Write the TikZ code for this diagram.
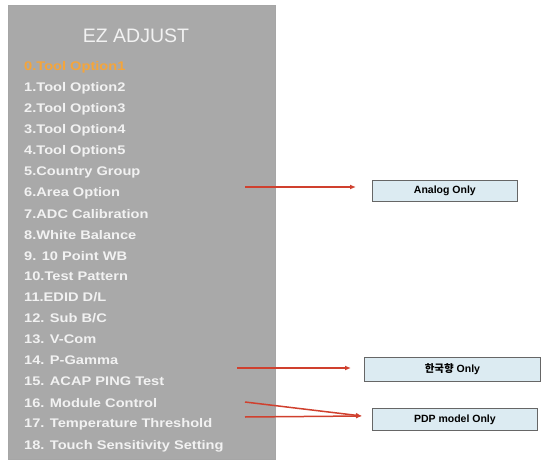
\documentclass[tikz,border=0pt]{standalone}
\usepackage{fontspec}
\setmainfont{Liberation Sans}
\newfontfamily\krfont{Noto Sans CJK KR}
\newfontfamily\itemfont[FakeStretch=1.17]{Liberation Sans}
\usetikzlibrary{arrows.meta}
\definecolor{panelgray}{HTML}{A9A9A9}
\definecolor{itemwhite}{HTML}{F2F2F2}
\definecolor{itemorange}{HTML}{F5A53A}
\definecolor{arrowred}{HTML}{D0402E}
\definecolor{boxblue}{HTML}{DCEBF2}
\begin{document}
\begin{tikzpicture}[x=1pt,y=-1pt,
  item/.style={anchor=west,inner sep=0pt,text=itemwhite,font=\itemfont\fontsize{12.5}{13}\selectfont\bfseries},
  notebox/.style={draw=gray!80!black,fill=boxblue,line width=0.8pt,inner sep=0pt,font=\fontsize{10.5}{11}\selectfont\bfseries},
  redarrow/.style={draw=arrowred,line width=1.5pt,-{Latex[length=6pt,width=5pt]}}]
\useasboundingbox (0,0) rectangle (542,461);
\fill[white] (0,0) rectangle (542,461);
\node[fill=panelgray,draw=gray!70,minimum width=267pt,minimum height=454pt,inner sep=0pt,anchor=north west] (panel) at (8,5) {};
\node[text=itemwhite,font=\fontsize{19.5}{20}\selectfont] (title) at (136,36) {EZ ADJUST};
\node[item,text=itemorange] (i0) at (24,67) {0.Tool Option1};
\node[item] (i1) at (24,88) {1.Tool Option2};
\node[item] (i2) at (24,109) {2.Tool Option3};
\node[item] (i3) at (24,130) {3.Tool Option4};
\node[item] (i4) at (24,151) {4.Tool Option5};
\node[item] (i5) at (24,172) {5.Country Group};
\node[item] (i6) at (24,193) {6.Area Option};
\node[item] (i7) at (24,214) {7.ADC Calibration};
\node[item] (i8) at (24,235) {8.White Balance};
\node[item] (i9) at (24,256) {9. 10 Point WB};
\node[item] (i10) at (24,276) {10.Test Pattern};
\node[item] (i11) at (24,297) {11.EDID D/L};
\node[item] (i12) at (24,318) {12. Sub B/C};
\node[item] (i13) at (24,339) {13. V-Com};
\node[item] (i14) at (24,360) {14. P-Gamma};
\node[item] (i15) at (24,381) {15. ACAP PING Test};
\node[item] (i16) at (24,403) {16. Module Control};
\node[item] (i17) at (24,424) {17. Temperature Threshold};
\node[item] (i18) at (24,446) {18. Touch Sensitivity Setting};
\node[notebox,minimum width=145pt,minimum height=21pt,anchor=north west] (analog) at (372,180) {Analog Only};
\node[notebox,minimum width=176pt,minimum height=24pt,anchor=north west] (korea) at (364,357) {{\krfont 한국향} Only};
\node[notebox,minimum width=165pt,minimum height=22pt,anchor=north west] (pdp) at (372,408) {PDP model Only};
\coordinate (a6) at (245,187);
\coordinate (a14) at (237,368);
\coordinate (a16) at (245,402);
\coordinate (a17) at (245,417);
\coordinate (e6) at (356,187);
\coordinate (e14) at (351,368);
\coordinate (e16) at (362,416);
\draw[redarrow] (a6) -- (e6);
\draw[redarrow] (a14) -- (e14);
\draw[redarrow] (a16) -- (e16);
\draw[redarrow] (a17) -- (e16);
\end{tikzpicture}
\end{document}
